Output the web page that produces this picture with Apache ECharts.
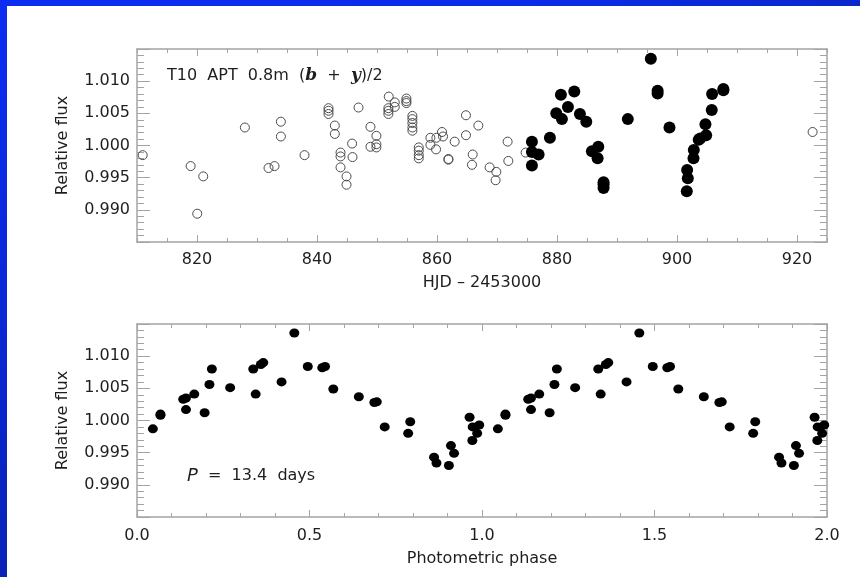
<!DOCTYPE html>
<html>
<head>
<meta charset="utf-8">
<title>T10 APT photometry</title>
<script src="https://cdn.jsdelivr.net/npm/echarts@6/dist/echarts.min.js"></script>
<style>
  html, body { margin: 0; padding: 0; width: 860px; height: 577px; overflow: hidden; }
  body { position: relative; background: linear-gradient(180deg, #0b2df3 0%, #0a27d2 60%, #0a22b6 100%); }
  #topbar { position: absolute; left: 0; top: 0; width: 860px; height: 6px;
            background: linear-gradient(90deg, #0b2df3 0%, #0b2bea 60%, #0a27cc 100%); }
  #panel { position: absolute; left: 7px; top: 6px; width: 853px; height: 571px; background: #ffffff; }
  #chart { position: absolute; left: 0; top: 0; width: 860px; height: 577px; }
</style>
</head>
<body>
<div id="topbar"></div>
<div id="panel"></div>
<div id="chart"></div>
<script>
// Light curve: HJD - 2453000 vs relative flux (open = earlier season part, filled = fitted span)
const hjdOpen = [
  [810.95,0.9985],[818.94,0.9968],[820.04,0.9894],[821.04,0.9952],[827.98,1.0028],
  [831.92,0.9965],[832.92,0.9968],[833.98,1.0037],[833.98,1.0014],[837.92,0.9985],
  [841.92,1.0058],[841.92,1.0054],[841.92,1.0049],[842.97,1.0031],[842.97,1.0018],
  [843.92,0.9989],[843.92,0.9983],[843.92,0.9966],[844.92,0.9952],[844.92,0.9939],
  [845.85,1.0003],[845.92,0.9982],[846.92,1.0059],[848.91,1.0029],[848.91,0.9998],
  [849.90,1.0015],[849.90,1.0002],[849.90,0.9997],[851.96,1.0076],[851.90,1.0058],
  [851.90,1.0054],[851.90,1.0049],[852.96,1.0067],[852.96,1.0060],[854.90,1.0073],
  [854.90,1.0069],[854.90,1.0066],[855.90,1.0046],[855.90,1.0041],[855.90,1.0035],
  [855.90,1.0028],[855.90,1.0023],[856.96,0.9997],[856.96,0.9992],[856.96,0.9985],
  [856.96,0.9980],[858.90,1.0012],[858.90,1.0001],[859.84,0.9994],[859.90,1.0012],
  [860.84,1.0021],[861.00,1.0014],[861.90,0.9979],[861.90,0.9978],[862.95,1.0006],
  [864.83,1.0047],[864.83,1.0016],[865.95,0.9986],[865.83,0.9970],[866.89,1.0031],
  [868.77,0.9966],[869.89,0.9959],[869.77,0.9946],[871.77,1.0006],[871.89,0.9976],
  [874.77,0.9989],[922.60,1.0021]
];
const hjdFilled = [
  [875.82,1.0006],[875.82,0.9990],[875.82,0.9969],[876.93,0.9986],[878.82,1.0012],
  [879.88,1.0050],[880.82,1.0041],[880.65,1.0079],[881.82,1.0060],[882.88,1.0084],
  [883.82,1.0049],[884.88,1.0037],[885.82,0.9991],[886.88,0.9998],[886.77,0.9980],
  [887.76,0.9943],[887.76,0.9939],[887.76,0.9934],[891.80,1.0041],[895.64,1.0135],
  [896.77,1.0085],[896.77,1.0081],[898.75,1.0028],[901.69,0.9962],[901.80,0.9949],
  [901.63,0.9929],[902.80,0.9993],[902.75,0.9980],[903.62,1.0009],[903.86,1.0011],
  [904.86,1.0016],[904.74,1.0033],[905.79,1.0055],[905.85,1.0080],[907.73,1.0088],
  [907.73,1.0086]
];
// Phase-folded light curve (P = 13.4 d), one cycle
const phaseCycle = [
  [0.046,0.9987],[0.068,1.0010],[0.068,1.0008],[0.134,1.0033],[0.142,1.0035],
  [0.142,1.0017],[0.166,1.0041],[0.196,1.0012],[0.210,1.0056],[0.217,1.0080],
  [0.270,1.0051],[0.337,1.0080],[0.344,1.0041],[0.359,1.0087],[0.366,1.0090],
  [0.419,1.0060],[0.456,1.0136],[0.495,1.0084],[0.537,1.0082],[0.545,1.0084],
  [0.569,1.0049],[0.643,1.0037],[0.688,1.0028],[0.695,1.0029],[0.718,0.9990],
  [0.786,0.9980],[0.792,0.9998],[0.861,0.9943],[0.868,0.9934],[0.904,0.9930],
  [0.910,0.9961],[0.919,0.9949],[0.964,1.0005],[0.973,0.9990],[0.972,0.9969],
  [0.986,0.9980],[0.992,0.9993]
];
const hjdTicks = [820, 840, 860, 880, 900, 920];
const fluxRange = [0.985, 1.015];
const hjdRange = [810, 925];
const phaseRange = [0, 2];

// the folded cycle is shown twice, over phases 0-1 and 1-2
const phaseTwoCycles = phaseCycle.concat(phaseCycle.map(p => [p[0] + 1, p[1]]));

const FONT = 'DejaVu Sans';
const TXT = '#1e1e1e';
const AX = '#a4a4a4';
const axisLine = { show: true, onZero: false, lineStyle: { color: AX, width: 1.5 } };
const noLine = { show: false, onZero: false };

function hjdAxis(pos, major, withLabels) {
  const a = {
    type: 'value', gridIndex: 0, position: pos, min: hjdRange[0], max: hjdRange[1],
    splitLine: { show: false },
    axisLine: major ? axisLine : noLine
  };
  if (major) {
    a.axisTick = { show: true, inside: true, length: 7, customValues: hjdTicks, lineStyle: { color: AX, width: 1 } };
    a.axisLabel = withLabels
      ? { show: true, customValues: hjdTicks, margin: 10, color: TXT, fontFamily: FONT, fontSize: 16 }
      : { show: false };
  } else {
    a.interval = 5;
    a.axisTick = { show: true, inside: true, length: 4, lineStyle: { color: AX, width: 1 } };
    a.axisLabel = { show: false };
  }
  return a;
}

function phaseAxis(pos, withLabels) {
  return {
    type: 'value', gridIndex: 1, position: pos, min: phaseRange[0], max: phaseRange[1], interval: 0.5,
    splitLine: { show: false }, axisLine: axisLine,
    axisTick: { show: true, inside: true, length: 7, lineStyle: { color: AX, width: 1 } },
    minorTick: { show: true, splitNumber: 5, length: 4, lineStyle: { color: AX, width: 1 } },
    minorSplitLine: { show: false },
    axisLabel: withLabels
      ? { show: true, margin: 11, color: TXT, fontFamily: FONT, fontSize: 16, formatter: v => v.toFixed(1) }
      : { show: false }
  };
}

function fluxAxis(grid, pos, withLabels) {
  return {
    type: 'value', gridIndex: grid, position: pos, min: fluxRange[0], max: fluxRange[1], interval: 0.005,
    splitLine: { show: false }, axisLine: axisLine,
    axisTick: { show: true, inside: true, length: 13, lineStyle: { color: AX, width: 1 } },
    minorTick: { show: true, splitNumber: 5, length: 7, lineStyle: { color: AX, width: 1 } },
    minorSplitLine: { show: false },
    axisLabel: withLabels
      ? { show: true, margin: 7, color: TXT, fontFamily: FONT, fontSize: 16,
          formatter: v => (v < 0.9875 || v > 1.0125) ? '' : v.toFixed(3) }
      : { show: false },
    name: withLabels ? 'Relative flux' : '',
    nameLocation: 'middle', nameGap: 66, nameRotate: 90,
    nameTextStyle: { color: TXT, fontFamily: FONT, fontSize: 16 }
  };
}

const xTop = hjdAxis('bottom', true, true);
xTop.name = 'HJD \u2013 2453000';
xTop.nameLocation = 'middle';
xTop.nameGap = 33;
xTop.nameTextStyle = { color: TXT, fontFamily: FONT, fontSize: 16 };

const xPhase = phaseAxis('bottom', true);
xPhase.name = 'Photometric phase';
xPhase.nameLocation = 'middle';
xPhase.nameGap = 34;
xPhase.nameTextStyle = { color: TXT, fontFamily: FONT, fontSize: 16 };

const chart = echarts.init(document.getElementById('chart'), null, { renderer: 'canvas' });
chart.setOption({
  animation: false,
  grid: [
    { left: 137, top: 49, width: 690, height: 193 },
    { left: 137, top: 324, width: 690, height: 193 }
  ],
  title: [
    {
      left: 162, top: 62,
      text: '{n|T10  APT  0.8m  (}{i|b}{n|  +  }{i|y}{n|)/2}',
      textStyle: {
        fontWeight: 'normal',
        rich: {
          n: { fontFamily: FONT, fontSize: 16, fontWeight: 'normal', color: TXT },
          i: { fontFamily: 'DejaVu Serif', fontStyle: 'italic', fontWeight: 'bold', fontSize: 17, color: TXT }
        }
      }
    },
    {
      left: 182, top: 462,
      text: '{i|P}{n|  =  13.4  days}',
      textStyle: {
        fontWeight: 'normal',
        rich: {
          n: { fontFamily: FONT, fontSize: 16, fontWeight: 'normal', color: TXT },
          i: { fontFamily: 'DejaVu Sans', fontStyle: 'italic', fontWeight: 'normal', fontSize: 18, color: TXT }
        }
      }
    }
  ],
  xAxis: [
    xTop,
    hjdAxis('bottom', false, false),
    hjdAxis('top', true, false),
    hjdAxis('top', false, false),
    xPhase,
    phaseAxis('top', false)
  ],
  yAxis: [
    fluxAxis(0, 'left', true),
    fluxAxis(0, 'right', false),
    fluxAxis(1, 'left', true),
    fluxAxis(1, 'right', false)
  ],
  series: [
    {
      type: 'scatter', xAxisIndex: 0, yAxisIndex: 0, data: hjdOpen,
      symbol: 'circle', symbolSize: 9,
      itemStyle: { color: 'rgba(0,0,0,0)', borderColor: '#4a4a4a', borderWidth: 1, opacity: 1 },
      emphasis: { disabled: true }, silent: true
    },
    {
      type: 'scatter', xAxisIndex: 0, yAxisIndex: 0, data: hjdFilled,
      symbol: 'circle', symbolSize: 12,
      itemStyle: { color: '#000', opacity: 1 },
      emphasis: { disabled: true }, silent: true
    },
    {
      type: 'scatter', xAxisIndex: 4, yAxisIndex: 2, data: phaseTwoCycles,
      symbol: 'circle', symbolSize: [10, 9],
      itemStyle: { color: '#000', opacity: 1 },
      emphasis: { disabled: true }, silent: true
    }
  ]
});
</script>
</body>
</html>
